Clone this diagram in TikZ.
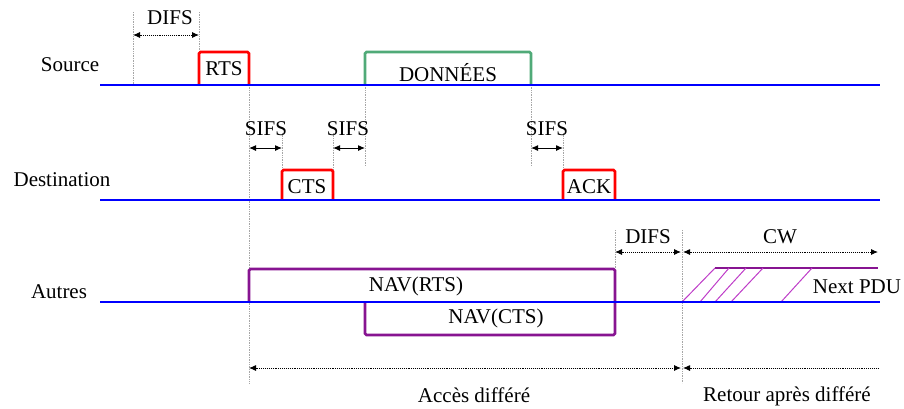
\documentclass[tikz,border=0pt]{standalone}
\usepackage{fontspec}
\setmainfont{Liberation Serif}
\usetikzlibrary{arrows.meta}

\definecolor{ligne}{RGB}{0,0,255}
\definecolor{rouge}{RGB}{255,0,0}
\definecolor{vert}{RGB}{80,170,120}
\definecolor{pourpre}{RGB}{135,20,145}
\definecolor{hachure}{RGB}{190,60,200}

\begin{document}
\begin{tikzpicture}[x=1pt, y=-1pt,
    txt/.style={font=\fontsize{21}{24}\selectfont, inner sep=0pt},
    axe/.style={ligne, line width=1.3pt},
    trame/.style={line width=2.6pt, rounded corners=1.5pt},
    repere/.style={gray!70, densely dotted, line width=0.7pt},
    cote/.style={densely dotted, line width=0.9pt},
    pointe/.tip={Latex[length=7pt, width=6pt]}]
    \useasboundingbox (0,0) rectangle (904,408);

    % etiquettes des stations
    \node[txt] (source) at (70,65)  {Source};
    \node[txt] (dest)   at (62,180) {Destination};
    \node[txt] (autres) at (59,292) {Autres};

    % lignes de temps
    \coordinate (s0) at (100,85);  \coordinate (s1) at (880,85);
    \coordinate (d0) at (100,200); \coordinate (d1) at (880,200);
    \coordinate (a0) at (100,302); \coordinate (a1) at (880,302);

    % reperes verticaux
    \draw[repere] (133,12) -- (133,85);
    \draw[repere] (199,12) -- (199,52);
    \draw[repere] (249,85) -- (249,383);
    \draw[repere] (365,85) -- (365,165);
    \draw[repere] (531,85) -- (531,165);
    \draw[repere] (282,133) -- (282,170);
    \draw[repere] (333,133) -- (333,170);
    \draw[repere] (563,133) -- (563,170);
    \draw[repere] (615,230) -- (615,269);
    \draw[repere] (682,230) -- (682,383);

    % trames
    \draw[trame, rouge] (199,85) |- (249,52) -- (249,85);
    \node[txt] (rts) at (224,69) {RTS};
    \draw[trame, vert] (365,85) |- (531,52) -- (531,85);
    \node[txt] (donnees) at (448,73) {DONNÉES};
    \draw[trame, rouge] (282,200) |- (333,170) -- (333,200);
    \node[txt] (cts) at (307,187) {CTS};
    \draw[trame, rouge] (563,200) |- (615,170) -- (615,200);
    \node[txt] (ack) at (589,187) {ACK};

    % NAV
    \draw[trame, pourpre] (249,302) |- (615,269) -- (615,302) |- (365,335) -- (365,302);
    \node[txt] (navrts) at (416,286) {NAV(RTS)};
    \node[txt] (navcts) at (496,318) {NAV(CTS)};

    % Next PDU
    \draw[trame, pourpre, rounded corners=0pt] (715,268) -- (878,268);
    \foreach \bas/\haut in {682/715, 700/729, 715/746, 731/763, 781/812}
        \draw[hachure, line width=1pt] (\bas,302) -- (\haut,268);
    \node[txt] (pdu) at (857,287) {Next PDU};

    \draw[axe] (s0) -- (s1);
    \draw[axe] (d0) -- (d1);
    \draw[axe] (a0) -- (a1);

    % intervalles
    \draw[cote, pointe-pointe] (133,35) -- (199,35);
    \node[txt] (difs1) at (170,18) {DIFS};
    \foreach \g/\d/\c in {249/282/266, 333/365/348, 531/563/547} {
        \draw[line width=1pt, pointe-pointe] (\g,148) -- (\d,148);
        \node[txt] at (\c,129) {SIFS};
    }
    \draw[cote, pointe-pointe] (615,252) -- (681,252);
    \node[txt] (difs2) at (648,237) {DIFS};
    \draw[cote, pointe-pointe] (683,252) -- (878,252);
    \node[txt] (cw) at (780,237) {CW};

    \draw[cote, pointe-pointe] (249,368) -- (681,368);
    \node[txt] (acces) at (474,395) {Accès différé};
    \draw[cote, pointe-] (683,368) -- (878,368);
    \node[txt] (retour) at (787,396) {Retour après différé};
\end{tikzpicture}
\end{document}
